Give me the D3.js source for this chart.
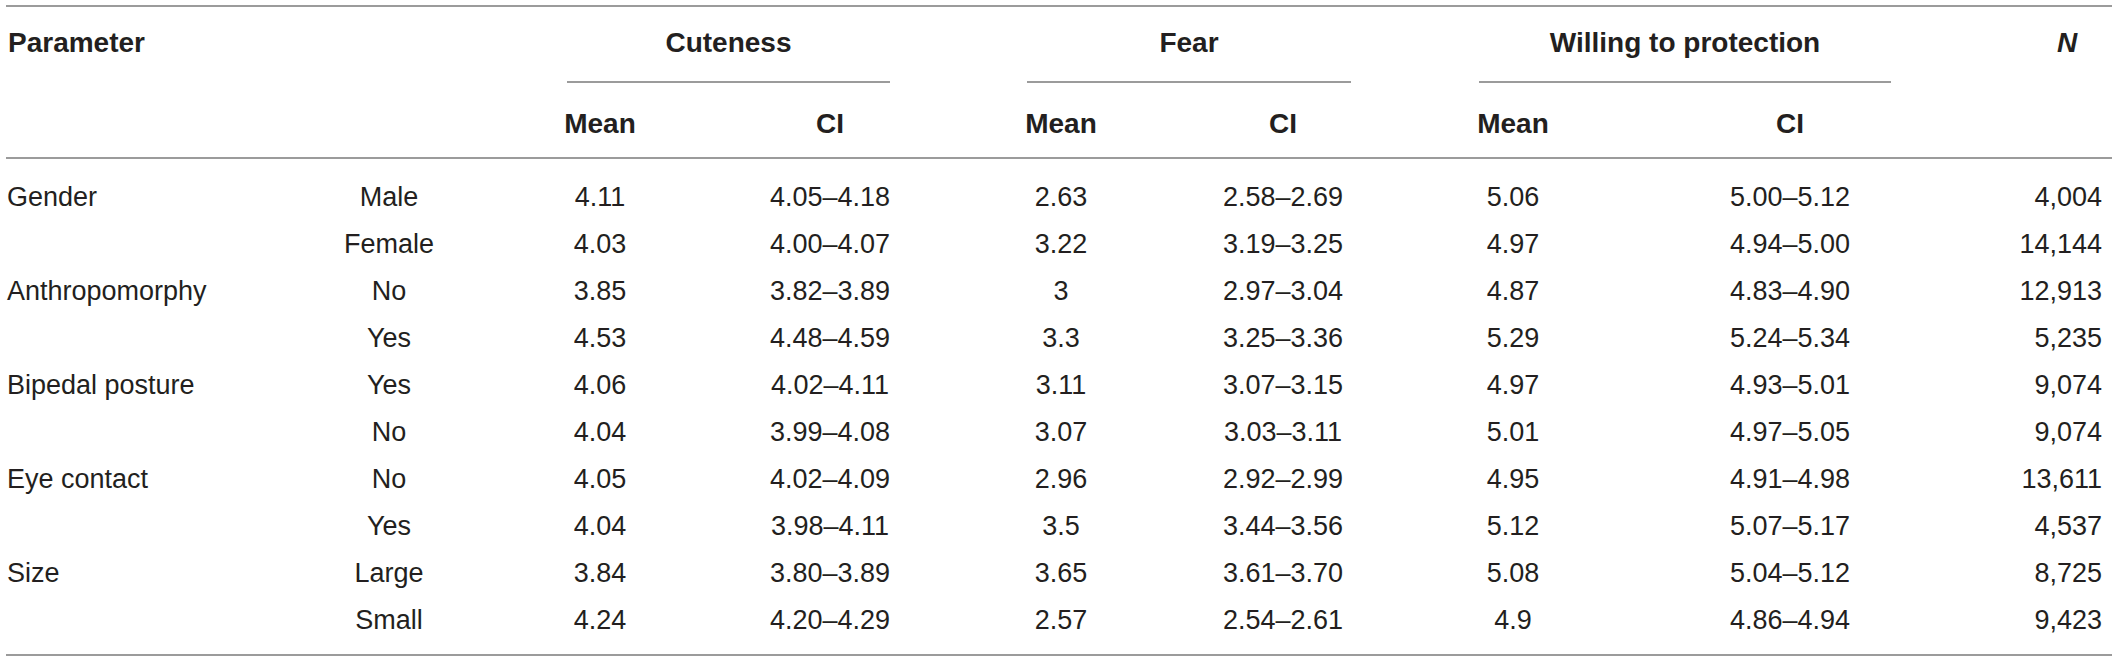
<!DOCTYPE html>
<html>
<head>
<meta charset="utf-8">
<script src="https://cdn.jsdelivr.net/npm/d3@7"></script>
<style>
  html, body { margin: 0; padding: 0; background: #fff; }
  svg { display: block; }
  text { font-family: "Liberation Sans", Arial, Helvetica, sans-serif; fill: #231f20; }
</style>
</head>
<body>
<svg id="chart" width="2118" height="661"></svg>
<script>
// ---- data ----
const parameters = ["Gender", "", "Anthropomorphy", "", "Bipedal posture", "", "Eye contact", "", "Size", ""];
const levels = ["Male", "Female", "No", "Yes", "Yes", "No", "No", "Yes", "Large", "Small"];
const cuteMean = [4.11, 4.03, 3.85, 4.53, 4.06, 4.04, 4.05, 4.04, 3.84, 4.24];
const cuteLow  = [4.05, 4.00, 3.82, 4.48, 4.02, 3.99, 4.02, 3.98, 3.80, 4.20];
const cuteHigh = [4.18, 4.07, 3.89, 4.59, 4.11, 4.08, 4.09, 4.11, 3.89, 4.29];
const fearMean = [2.63, 3.22, 3, 3.3, 3.11, 3.07, 2.96, 3.5, 3.65, 2.57];
const fearLow  = [2.58, 3.19, 2.97, 3.25, 3.07, 3.03, 2.92, 3.44, 3.61, 2.54];
const fearHigh = [2.69, 3.25, 3.04, 3.36, 3.15, 3.11, 2.99, 3.56, 3.70, 2.61];
const willMean = [5.06, 4.97, 4.87, 5.29, 4.97, 5.01, 4.95, 5.12, 5.08, 4.9];
const willLow  = [5.00, 4.94, 4.83, 5.24, 4.93, 4.97, 4.91, 5.07, 5.04, 4.86];
const willHigh = [5.12, 5.00, 4.90, 5.34, 5.01, 5.05, 4.98, 5.17, 5.12, 4.94];
const nValues  = [4004, 14144, 12913, 5235, 9074, 9074, 13611, 4537, 8725, 9423];
const groupLabels = ["Cuteness", "Fear", "Willing to protection"];
const subLabels = ["Mean", "CI"];

// ---- layout ----
const svg = d3.select("#chart");
const W = 2118;
const ruleColor = "#7a7a7a";
const bodySize = 27, headSize = 28;

const rowIdx = d3.range(levels.length);
const y = d3.scaleLinear().domain([0, levels.length - 1]).range([196, 619]);

const colKeys = ["param", "level", "cM", "cCI", "fM", "fCI", "wM", "wCI", "n"];
const x = d3.scaleOrdinal().domain(colKeys)
  .range([7, 389, 600, 830, 1061, 1283, 1513, 1790, 2102]);
const groupSpan = d3.scaleOrdinal().domain(groupLabels)
  .range([[567, 890], [1027, 1351], [1479, 1891]]);

const fmtCI = (lo, hi) => lo.toFixed(2) + "\u2013" + hi.toFixed(2);
const fmtN = d3.format(",");

// rules
const rules = [6, 158, 655];
svg.selectAll("line.rule").data(rules).join("line")
  .attr("class", "rule")
  .attr("x1", 6).attr("x2", 2112)
  .attr("y1", d => d).attr("y2", d => d)
  .attr("stroke", ruleColor).attr("stroke-width", 1.4);

// group header lines
svg.selectAll("line.grp").data(groupLabels).join("line")
  .attr("class", "grp")
  .attr("x1", d => groupSpan(d)[0]).attr("x2", d => groupSpan(d)[1])
  .attr("y1", 82).attr("y2", 82)
  .attr("stroke", ruleColor).attr("stroke-width", 1.4);

// header texts
const head = svg.append("g").attr("font-weight", "bold").attr("font-size", headSize);
head.append("text").attr("x", x("param") + 1).attr("y", 42).attr("dy", "0.36em").text("Parameter");
head.selectAll("text.grp").data(groupLabels).join("text")
  .attr("class", "grp")
  .attr("x", d => (groupSpan(d)[0] + groupSpan(d)[1]) / 2)
  .attr("y", 42).attr("dy", "0.36em").attr("text-anchor", "middle")
  .text(d => d);
const subCols = [["cM", "cCI"], ["fM", "fCI"], ["wM", "wCI"]];
subCols.forEach(pair => {
  pair.forEach((k, i) => {
    head.append("text").attr("x", x(k)).attr("y", 123).attr("dy", "0.36em")
      .attr("text-anchor", "middle").text(subLabels[i]);
  });
});
head.append("text").attr("x", 2067).attr("y", 42).attr("dy", "0.36em")
  .attr("text-anchor", "middle").attr("font-style", "italic").text("N");

// body
const body = svg.append("g").attr("font-size", bodySize);
const cells = [
  { key: "param", anchor: "start", f: i => parameters[i] },
  { key: "level", anchor: "middle", f: i => levels[i] },
  { key: "cM", anchor: "middle", f: i => String(cuteMean[i]) },
  { key: "cCI", anchor: "middle", f: i => fmtCI(cuteLow[i], cuteHigh[i]) },
  { key: "fM", anchor: "middle", f: i => String(fearMean[i]) },
  { key: "fCI", anchor: "middle", f: i => fmtCI(fearLow[i], fearHigh[i]) },
  { key: "wM", anchor: "middle", f: i => String(willMean[i]) },
  { key: "wCI", anchor: "middle", f: i => fmtCI(willLow[i], willHigh[i]) },
  { key: "n", anchor: "end", f: i => fmtN(nValues[i]) }
];
cells.forEach(c => {
  body.selectAll("text.c-" + c.key).data(rowIdx).join("text")
    .attr("class", "c-" + c.key)
    .attr("x", x(c.key))
    .attr("y", d => y(d)).attr("dy", "0.36em")
    .attr("text-anchor", c.anchor)
    .text(d => c.f(d));
});
</script>
</body>
</html>
